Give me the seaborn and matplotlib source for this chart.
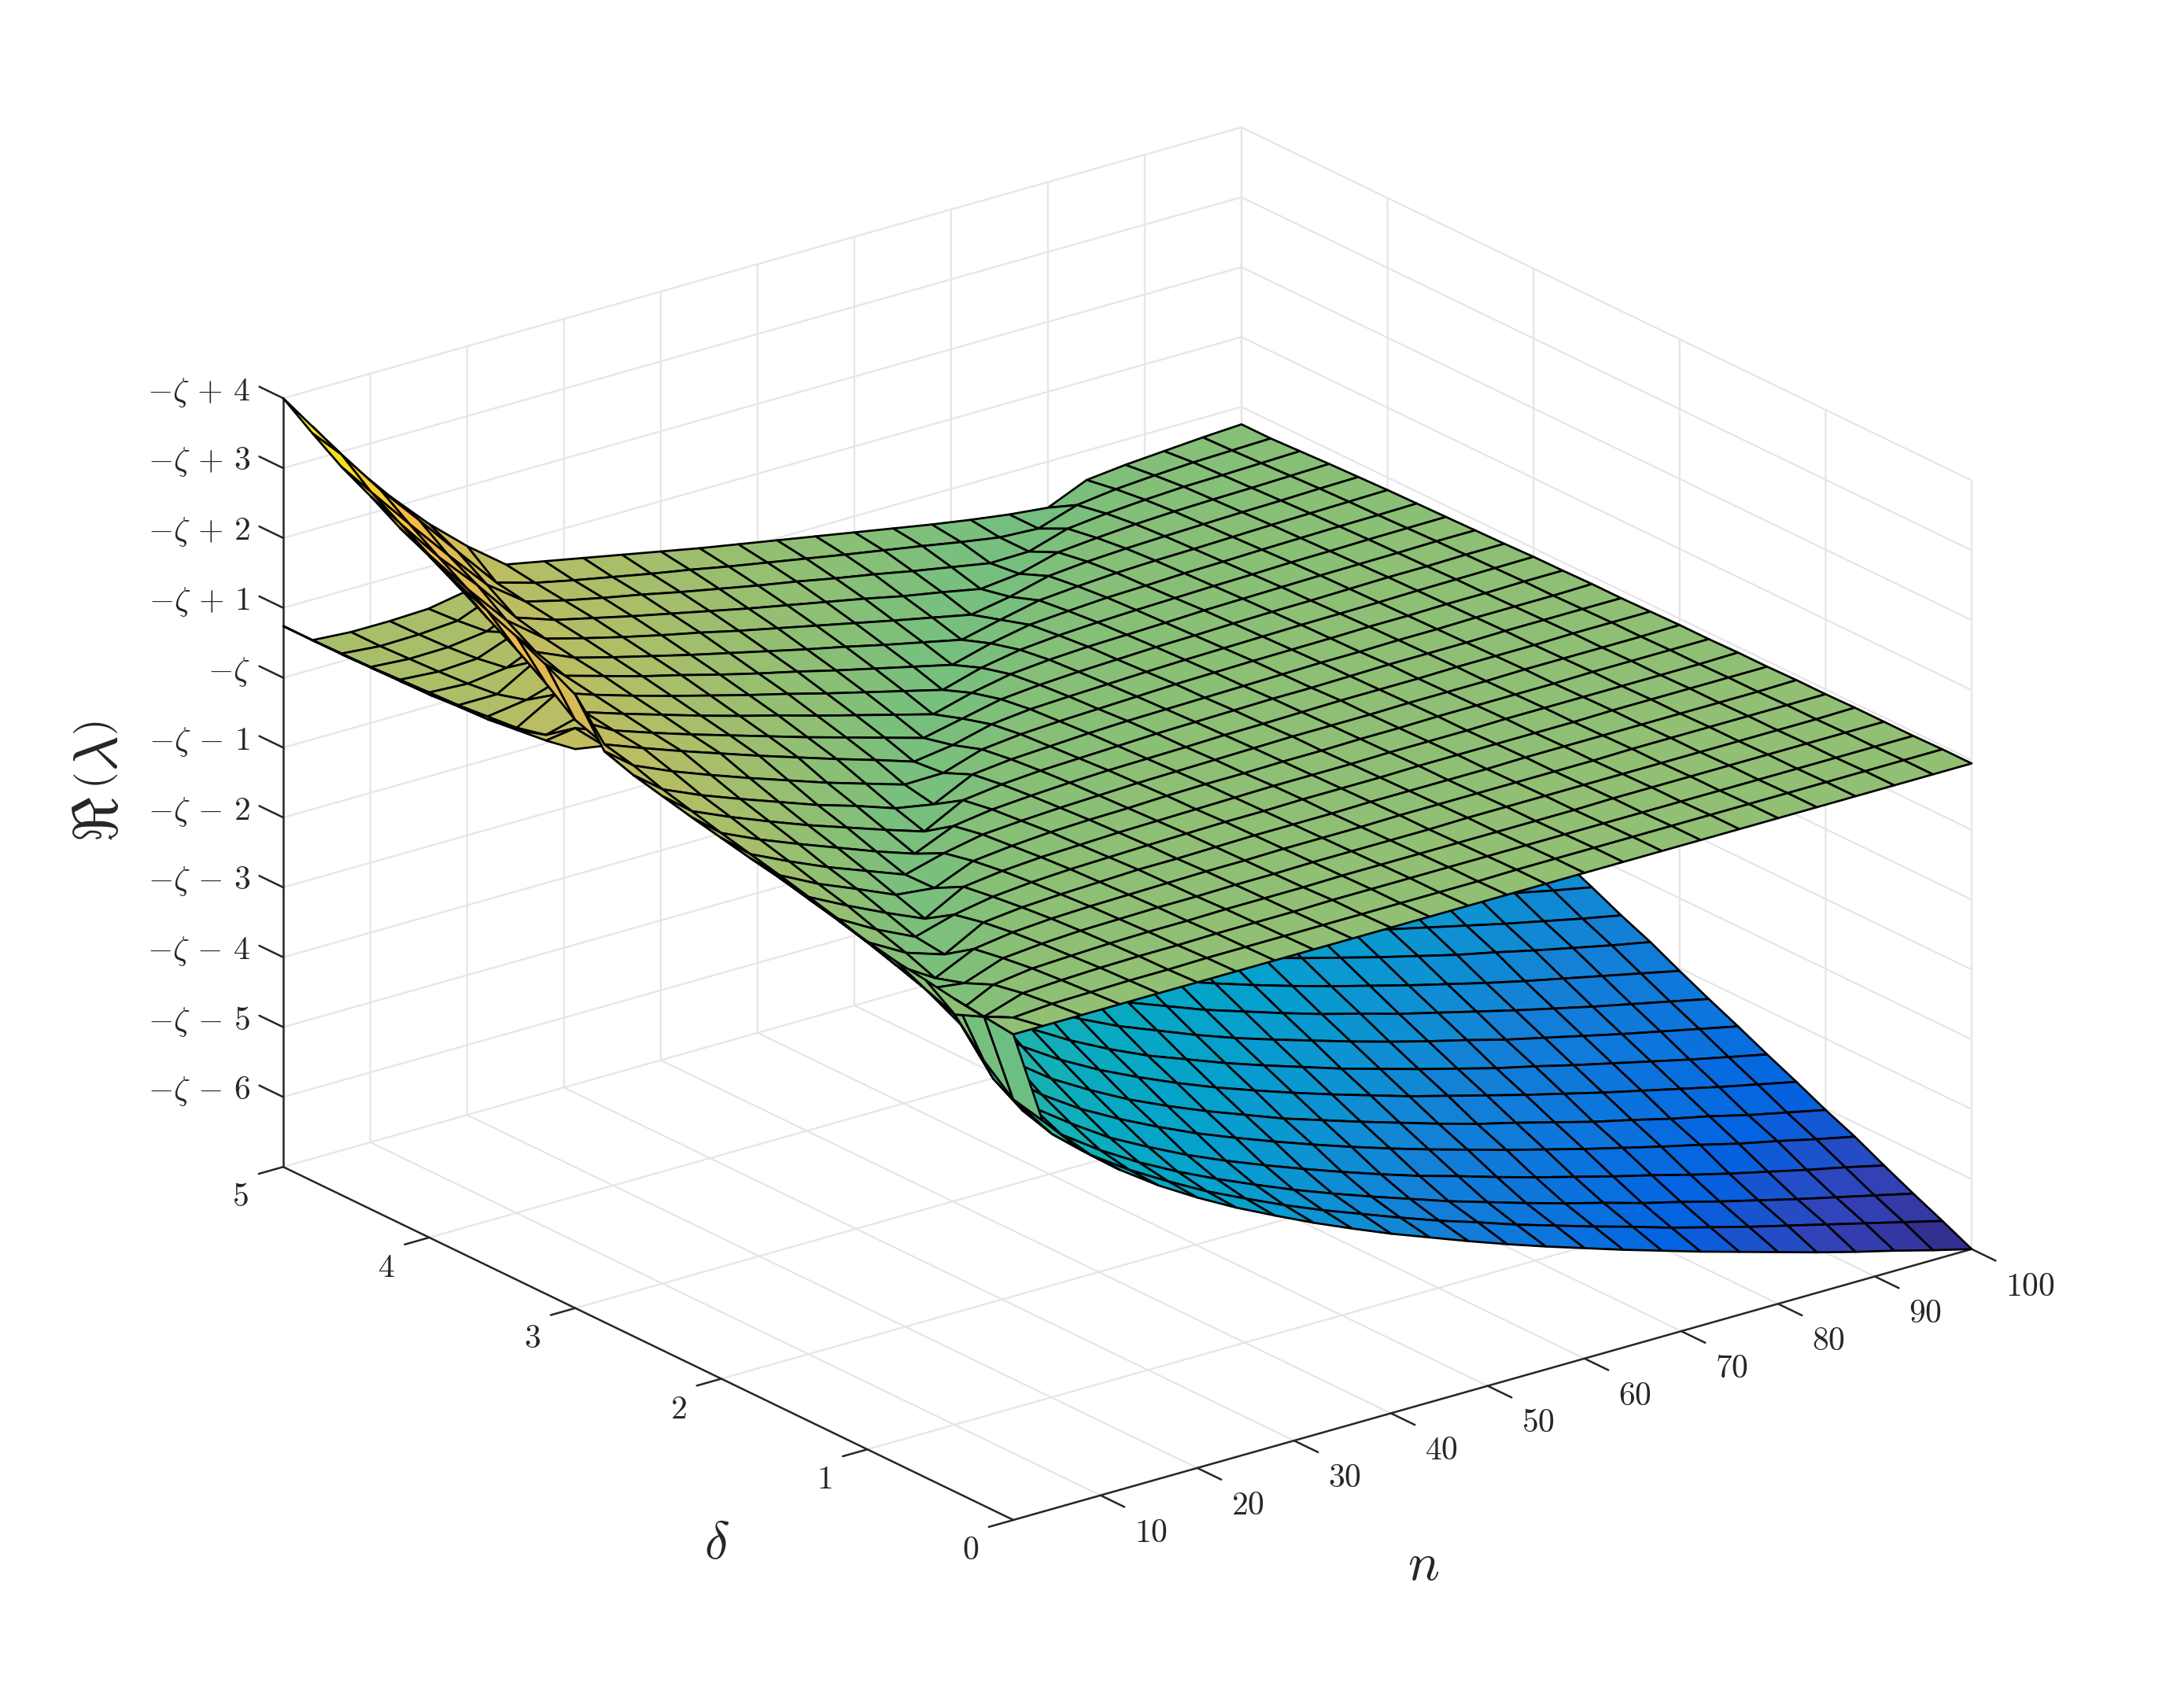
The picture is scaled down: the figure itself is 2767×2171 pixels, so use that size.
import numpy as np
import seaborn as sns
import matplotlib
matplotlib.use("Agg")
import matplotlib.pyplot as plt
from matplotlib.transforms import ScaledTranslation
from mpl_toolkits.mplot3d import proj3d, axis3d

n_grid = [1, 4, 8, 12, 16, 20, 24, 28, 32, 36, 40, 44, 48, 52, 56, 60, 64, 68, 72, 76, 80, 84, 88, 92, 96, 100]
delta_grid = [0, .2, .4, .6, .8, 1, 1.2, 1.4, 1.6, 1.8, 2, 2.2, 2.4, 2.6, 2.8, 3, 3.2, 3.4, 3.6, 3.8, 4, 4.2, 4.4, 4.6, 4.8, 5]

# Upper sheet of Re(lambda)+zeta, one row per delta
top_sheet = [
 [-.05,-.05,-.05,-.05,-.05,-.05,-.05,-.05,-.05,-.05,-.05,-.05,-.05,-.05,-.05,-.05,-.05,-.05,-.05,-.05,-.05,-.05,-.05,-.05,-.05,-.05],
 [0,-.13,-.09,-.08,-.07,-.07,-.06,-.06,-.06,-.06,-.06,-.06,-.06,-.06,-.05,-.05,-.05,-.05,-.05,-.05,-.05,-.05,-.05,-.05,-.05,-.05],
 [.05,-.32,-.14,-.11,-.09,-.08,-.08,-.07,-.07,-.07,-.06,-.06,-.06,-.06,-.06,-.06,-.06,-.06,-.06,-.06,-.06,-.06,-.06,-.06,-.06,-.06],
 [.12,-.49,-.22,-.145,-.12,-.10,-.09,-.09,-.08,-.08,-.08,-.07,-.07,-.07,-.07,-.07,-.07,-.07,-.06,-.06,-.06,-.06,-.06,-.06,-.06,-.06],
 [.18,-.33,-.40,-.20,-.15,-.12,-.11,-.10,-.10,-.09,-.09,-.08,-.08,-.08,-.08,-.07,-.07,-.07,-.07,-.07,-.07,-.07,-.07,-.07,-.07,-.06],
 [.27,-.19,-.53,-.27,-.19,-.15,-.13,-.12,-.11,-.10,-.10,-.09,-.09,-.09,-.08,-.08,-.08,-.08,-.08,-.08,-.07,-.07,-.07,-.07,-.07,-.07],
 [.37,-.06,-.37,-.55,-.25,-.19,-.16,-.14,-.12,-.12,-.11,-.10,-.10,-.10,-.09,-.09,-.09,-.09,-.08,-.08,-.08,-.08,-.08,-.08,-.08,-.07],
 [.47,.07,-.24,-.50,-.34,-.24,-.19,-.16,-.145,-.13,-.12,-.11,-.11,-.10,-.10,-.10,-.09,-.09,-.09,-.09,-.09,-.08,-.08,-.08,-.08,-.08],
 [.57,.18,-.10,-.36,-.60,-.30,-.23,-.19,-.17,-.15,-.14,-.13,-.12,-.11,-.11,-.11,-.10,-.10,-.10,-.09,-.09,-.09,-.09,-.09,-.09,-.08],
 [.65,.29,.01,-.22,-.46,-.52,-.29,-.23,-.19,-.17,-.16,-.14,-.13,-.13,-.12,-.12,-.11,-.11,-.10,-.10,-.10,-.10,-.09,-.09,-.09,-.09],
 [.74,.39,.13,-.11,-.32,-.53,-.38,-.27,-.23,-.20,-.18,-.16,-.15,-.14,-.13,-.12,-.12,-.12,-.11,-.11,-.11,-.10,-.10,-.10,-.10,-.09],
 [.83,.49,.24,.02,-.19,-.40,-.59,-.35,-.27,-.23,-.20,-.18,-.17,-.16,-.145,-.14,-.13,-.12,-.12,-.12,-.11,-.11,-.11,-.10,-.10,-.10],
 [.93,.60,.36,.14,-.07,-.26,-.45,-.63,-.34,-.27,-.23,-.21,-.19,-.17,-.16,-.15,-.14,-.14,-.13,-.12,-.12,-.12,-.11,-.11,-.11,-.11],
 [1.03,.71,.47,.26,.06,-.14,-.31,-.50,-.60,-.33,-.27,-.24,-.21,-.19,-.18,-.17,-.16,-.15,-.14,-.14,-.13,-.13,-.12,-.12,-.12,-.11],
 [1.17,.85,.61,.40,.20,.01,-.18,-.35,-.52,-.51,-.33,-.27,-.24,-.22,-.20,-.18,-.17,-.16,-.155,-.15,-.14,-.14,-.13,-.13,-.12,-.12],
 [1.78,.95,.74,.54,.35,.16,-.02,-.20,-.37,-.55,-.47,-.33,-.27,-.245,-.225,-.205,-.19,-.18,-.17,-.16,-.155,-.15,-.14,-.135,-.13,-.125],
 [2.0,1.10,.79,.60,.42,.25,.08,-.09,-.25,-.41,-.57,-.45,-.33,-.28,-.25,-.23,-.21,-.20,-.185,-.175,-.17,-.16,-.15,-.15,-.14,-.14],
 [2.2,1.42,.85,.67,.50,.33,.17,.02,-.14,-.29,-.44,-.59,-.44,-.33,-.28,-.25,-.235,-.22,-.20,-.19,-.18,-.17,-.165,-.16,-.15,-.15],
 [2.37,1.70,.93,.74,.57,.41,.26,.11,-.03,-.18,-.32,-.46,-.60,-.44,-.34,-.29,-.26,-.24,-.225,-.21,-.20,-.185,-.18,-.17,-.165,-.16],
 [2.55,1.95,1.30,.81,.65,.49,.35,.20,.06,-.07,-.21,-.34,-.47,-.60,-.45,-.34,-.30,-.265,-.25,-.23,-.22,-.205,-.195,-.185,-.18,-.17],
 [2.75,2.20,1.55,.95,.71,.56,.42,.28,.15,.02,-.11,-.23,-.36,-.48,-.60,-.47,-.35,-.305,-.27,-.25,-.24,-.225,-.21,-.20,-.19,-.18],
 [2.95,2.45,1.80,1.20,.78,.63,.49,.36,.24,.11,-.01,-.13,-.25,-.37,-.485,-.60,-.50,-.36,-.31,-.28,-.26,-.245,-.23,-.22,-.205,-.195],
 [3.2,2.70,2.06,1.50,.88,.69,.56,.43,.31,.19,.07,-.04,-.15,-.26,-.38,-.48,-.59,-.53,-.38,-.33,-.29,-.265,-.25,-.24,-.225,-.21],
 [3.42,2.95,2.33,1.73,1.15,.75,.61,.49,.38,.26,.15,.04,-.06,-.17,-.27,-.38,-.48,-.58,-.57,-.40,-.34,-.30,-.27,-.26,-.245,-.23],
 [3.7,3.28,2.62,2.03,1.42,.82,.66,.54,.43,.32,.22,.11,.01,-.09,-.19,-.285,-.38,-.48,-.57,-.60,-.42,-.35,-.31,-.28,-.265,-.25],
 [4.0,3.48,2.78,2.17,1.62,1.14,.72,.61,.50,.39,.28,.17,.07,-.03,-.13,-.23,-.33,-.43,-.52,-.60,-.66,-.42,-.36,-.32,-.28,-.25],
]

# Lip below the ridge, delta 3 to 5, n 1 to 24
lip_n = [1, 4, 8, 12, 16, 20, 24]
lip_delta = [3, 3.2, 3.4, 3.6, 3.8, 4, 4.2, 4.4, 4.6, 4.8, 5]
lip_sheet = [
 [1.0,.93,.72,.52,.33,.14,-.04],
 [.92,.98,.77,.58,.40,.23,.06],
 [.87,.68,.83,.65,.48,.31,.15],
 [.82,.58,.90,.72,.55,.39,.24],
 [.80,.54,.62,.79,.63,.47,.33],
 [.77,.50,.50,.82,.69,.54,.40],
 [.76,.48,.45,.52,.76,.61,.47],
 [.75,.46,.42,.45,.66,.67,.54],
 [.74,.44,.40,.41,.48,.73,.59],
 [.74,.43,.38,.39,.43,.65,.64],
 [.74,.42,.38,.38,.40,.50,.70],
]

# Lower (blue) sheet, delta 0 to 3
low_delta = delta_grid[:16]
low_sheet = [
 [-.05,-1.40,-1.98,-2.42,-2.80,-3.13,-3.43,-3.70,-3.96,-4.20,-4.43,-4.64,-4.85,-5.05,-5.24,-5.42,-5.60,-5.77,-5.94,-6.10,-6.26,-6.42,-6.57,-6.71,-6.86,-7.0],
 [0,-1.30,-1.95,-2.41,-2.78,-3.10,-3.40,-3.66,-3.91,-4.14,-4.35,-4.56,-4.76,-4.94,-5.13,-5.30,-5.47,-5.63,-5.80,-5.95,-6.10,-6.24,-6.38,-6.52,-6.66,-6.80],
 [.05,-.95,-1.82,-2.32,-2.70,-3.03,-3.32,-3.58,-3.82,-4.05,-4.26,-4.46,-4.65,-4.84,-5.01,-5.18,-5.34,-5.49,-5.65,-5.79,-5.94,-6.08,-6.22,-6.35,-6.48,-6.61],
 [.12,-.49,-1.57,-2.13,-2.52,-2.88,-3.17,-3.44,-3.68,-3.90,-4.11,-4.31,-4.50,-4.68,-4.84,-5.01,-5.17,-5.32,-5.47,-5.61,-5.76,-5.90,-6.03,-6.16,-6.28,-6.41],
 [.18,-.33,-1.04,-1.86,-2.31,-2.67,-2.97,-3.24,-3.49,-3.71,-3.92,-4.12,-4.31,-4.49,-4.66,-4.82,-4.98,-5.13,-5.28,-5.42,-5.56,-5.69,-5.83,-5.95,-6.08,-6.20],
 [.27,-.19,-.53,-1.48,-2.04,-2.44,-2.76,-3.05,-3.30,-3.53,-3.74,-3.95,-4.13,-4.31,-4.48,-4.65,-4.81,-4.95,-5.10,-5.25,-5.38,-5.52,-5.64,-5.78,-5.90,-6.02],
 [.37,-.06,-.37,-.78,-1.72,-2.18,-2.53,-2.83,-3.09,-3.33,-3.55,-3.75,-3.94,-4.12,-4.29,-4.46,-4.61,-4.76,-4.91,-5.05,-5.19,-5.32,-5.45,-5.58,-5.70,-5.82],
 [.47,.07,-.24,-.50,-1.31,-1.90,-2.29,-2.61,-2.89,-3.14,-3.35,-3.56,-3.75,-3.93,-4.11,-4.27,-4.43,-4.58,-4.73,-4.86,-5.00,-5.13,-5.26,-5.39,-5.51,-5.63],
 [.57,.18,-.10,-.36,-.60,-1.53,-2.01,-2.36,-2.66,-2.92,-3.14,-3.36,-3.56,-3.74,-3.91,-4.08,-4.24,-4.39,-4.53,-4.68,-4.81,-4.94,-5.07,-5.19,-5.31,-5.43],
 [.65,.29,.01,-.22,-.46,-.93,-1.69,-2.10,-2.42,-2.69,-2.94,-3.15,-3.36,-3.54,-3.72,-3.89,-4.04,-4.20,-4.34,-4.48,-4.62,-4.75,-4.88,-5.00,-5.12,-5.24],
 [.74,.39,.13,-.11,-.32,-.53,-1.24,-1.79,-2.16,-2.46,-2.72,-2.94,-3.15,-3.34,-3.52,-3.69,-3.85,-4.00,-4.15,-4.29,-4.43,-4.56,-4.68,-4.80,-4.92,-5.04],
 [.83,.49,.24,.02,-.19,-.40,-.59,-1.40,-1.87,-2.20,-2.48,-2.72,-2.93,-3.13,-3.31,-3.49,-3.65,-3.80,-3.95,-4.09,-4.23,-4.35,-4.48,-4.60,-4.72,-4.83],
 [.93,.60,.36,.14,-.07,-.26,-.45,-.63,-1.51,-1.92,-2.23,-2.49,-2.72,-2.93,-3.11,-3.29,-3.46,-3.61,-3.76,-3.91,-4.04,-4.17,-4.30,-4.42,-4.54,-4.65],
 [1.03,.71,.47,.26,.06,-.14,-.31,-.50,-.89,-1.58,-1.95,-2.24,-2.49,-2.71,-2.90,-3.08,-3.25,-3.41,-3.56,-3.70,-3.84,-3.97,-4.10,-4.22,-4.34,-4.45],
 [1.17,.85,.61,.40,.20,.01,-.18,-.35,-.52,-1.05,-1.62,-1.96,-2.24,-2.47,-2.68,-2.87,-3.05,-3.21,-3.36,-3.51,-3.65,-3.78,-3.91,-4.03,-4.15,-4.26],
 [1.78,.95,.74,.54,.35,.16,-.02,-.20,-.37,-.55,-1.16,-1.65,-1.97,-2.23,-2.45,-2.65,-2.83,-3.00,-3.16,-3.30,-3.44,-3.58,-3.70,-3.83,-3.95,-4.06],
]

n_ticks = [10, 20, 30, 40, 50, 60, 70, 80, 90, 100]
n_tick_labels = ["$10$", "$20$", "$30$", "$40$", "$50$", "$60$", "$70$", "$80$", "$90$", "$100$"]
delta_ticks = [0, 1, 2, 3, 4, 5]
delta_tick_labels = ["$0$", "$1$", "$2$", "$3$", "$4$", "$5$"]
z_ticks = [-6, -5, -4, -3, -2, -1, 0, 1, 2, 3, 4]
z_tick_labels = [r"$-\zeta\,-\,6$", r"$-\zeta\,-\,5$", r"$-\zeta\,-\,4$", r"$-\zeta\,-\,3$", r"$-\zeta\,-\,2$", r"$-\zeta\,-\,1$",
                 r"$-\zeta$", r"$-\zeta\,+\,1$", r"$-\zeta\,+\,2$", r"$-\zeta\,+\,3$", r"$-\zeta\,+\,4$"]

parula_anchors = [(.2081,.1663,.5292),(.1959,.2645,.7279),(.0117,.3875,.8820),(.0498,.4586,.8641),(.0779,.5040,.8384),
                  (.0488,.5772,.8228),(.0239,.6287,.8038),(.0267,.6642,.7607),(.0843,.6928,.7062),(.1801,.7177,.6424),
                  (.3022,.7376,.5712),(.4420,.7481,.5033),(.5709,.7485,.4494),(.6834,.7435,.4044),(.7858,.7356,.3633),
                  (.8824,.7274,.3217),(.9739,.7314,.2666),(.9880,.8066,.1794),(.9626,.8705,.1309),(.9763,.9831,.0538)]

sns.set_theme(style="white")
plt.rcParams["mathtext.fontset"] = "cm"
plt.rcParams["font.family"] = ["DejaVu Serif"]
INK = "#262626"
GRID = "#e6e6e6"
parula = sns.blend_palette(parula_anchors, n_colors=256, as_cmap=True)

# z ticks run along the delta direction in the reference
axis3d.Axis._AXINFO["z"]["tickdir"] = 1

W, H = 2767, 2171
fig = plt.figure(figsize=(W / 300, H / 300), dpi=300, facecolor="white")
ax = fig.add_axes([(W - H) / 2 / W, 0, H / W, 1], projection="3d", computed_zorder=False)
ax.set_proj_type("ortho")
ax.view_init(elev=21.7, azim=232.6)
ax.set_box_aspect((869, 866, 596), zoom=1.0)
ax.set_xlim(1, 100)
ax.set_ylim(0, 5)
ax.set_zlim(-7, 4)

style = dict(cmap=parula, vmin=-7, vmax=4, rstride=1, cstride=1, edgecolor="black", linewidth=.65, shade=False, antialiased=True)
ax.plot_surface(*np.meshgrid(n_grid, low_delta), np.array(low_sheet), zorder=2, **style)
ax.plot_surface(*np.meshgrid(lip_n, lip_delta), np.array(lip_sheet), zorder=3, **style)
ax.plot_surface(*np.meshgrid(n_grid, delta_grid), np.array(top_sheet), zorder=4, **style)

ax.set_xticks(n_ticks, labels=n_tick_labels, fontsize=10, color=INK)
ax.set_yticks(delta_ticks, labels=delta_tick_labels, fontsize=10, color=INK)
ax.set_zticks(z_ticks, labels=z_tick_labels, fontsize=10, color=INK)
for axis in (ax.xaxis, ax.yaxis, ax.zaxis):
    axis.set_pane_color((1, 1, 1, 0))
    axis.pane.set_edgecolor((1, 1, 1, 0))
    axis.line.set_color(INK)
    axis.line.set_linewidth(.6)
    axis._axinfo["grid"].update(color=GRID, linewidth=.55)
    axis._axinfo["tick"].update(linewidth={True: .6, False: .6}, color=INK)
ax.xaxis._axinfo["tick"].update(inward_factor=.41, outward_factor=0)
ax.yaxis._axinfo["tick"].update(inward_factor=.32, outward_factor=0)
ax.zaxis._axinfo["tick"].update(inward_factor=0, outward_factor=.41)
ax.tick_params(axis="both", colors=INK, pad=2)


def nudge(axis, dx, dy, ha):
    """Shift an axis's tick labels by full-size pixels (dy upward)."""
    for tick in axis.get_major_ticks():
        label = tick.label1
        label.set_horizontalalignment(ha)
        label.set_transform(ax.transData + ScaledTranslation(dx / 300, dy / 300, fig.dpi_scale_trans))
        # Axis3D resets the transform of its tick labels at every draw; keep this one
        label.set_transform = lambda *_: None


nudge(ax.xaxis, 11, 23, "left")
nudge(ax.yaxis, -13, 28, "center")
nudge(ax.zaxis, 32, 25, "right")

ax.text2D(1025 / 1568, 1 - 1127 / 1230, "$n$", transform=fig.transFigure, fontsize=16, color=INK, ha="center", va="center")
ax.text2D(516 / 1568, 1 - 1112 / 1230, r"$\delta$", transform=fig.transFigure, fontsize=16, color=INK, ha="center", va="center")
ax.text2D(72 / 1568, 1 - 563 / 1230, r"$\Re\,\left(\lambda\right)$", transform=fig.transFigure, fontsize=19, color=INK,
          rotation=90, ha="center", va="center")

# place the box so its corners land where the reference has them (pixels, from the top)
corner_xyz = np.array([[1, 0, -7], [100, 0, -7], [1, 5, -7]], float)
target = np.array([[1288.0, 1932.0], [2506.0, 1588.0], [360.0, 1484.0]])
target[:, 1] = H - target[:, 1]
for _ in range(4):
    ax.apply_aspect()
    x, y, _z = proj3d.proj_transform(corner_xyz[:, 0], corner_xyz[:, 1], corner_xyz[:, 2], ax.get_proj())
    disp = ax.transData.transform(np.c_[x, y])
    scale = (target[1, 0] - target[2, 0]) / (disp[1, 0] - disp[2, 0])
    pos = ax.get_position(original=True)
    size = pos.width * W * scale
    new_disp0 = pos.x0 * W + (disp[0, 0] - pos.x0 * W) * scale, pos.y0 * H + (disp[0, 1] - pos.y0 * H) * scale
    left = pos.x0 * W + target[0, 0] - new_disp0[0]
    bottom = pos.y0 * H + target[0, 1] - new_disp0[1]
    ax.set_position([left / W, bottom / H, size / W, size / H])

fig.savefig("out.png", dpi=300, facecolor="white")
